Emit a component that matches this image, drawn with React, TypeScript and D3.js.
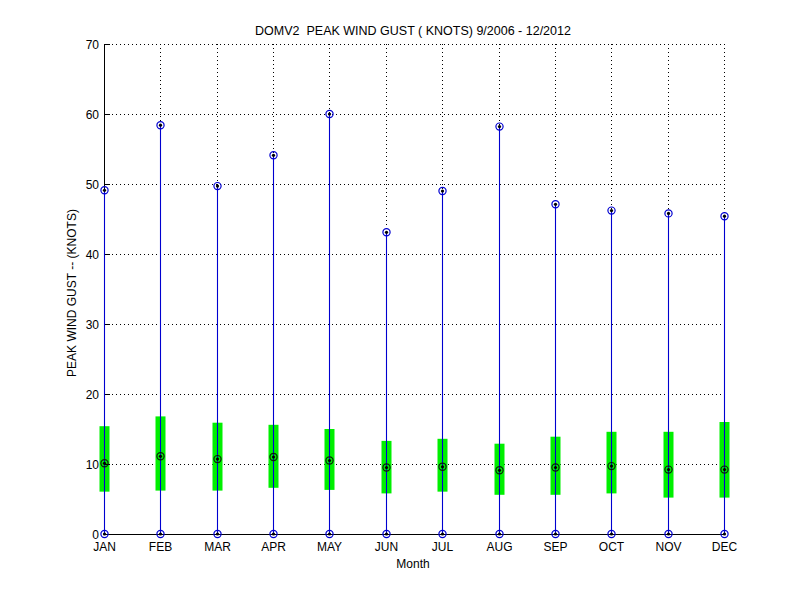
import React from 'react';
import * as d3 from 'd3';

const months = ['JAN', 'FEB', 'MAR', 'APR', 'MAY', 'JUN', 'JUL', 'AUG', 'SEP', 'OCT', 'NOV', 'DEC'];
const maxGust = [49.1, 58.4, 49.7, 54.1, 60.0, 43.1, 49.0, 58.2, 47.1, 46.2, 45.8, 45.4];
const minGust = [0, 0, 0, 0, 0, 0, 0, 0, 0, 0, 0, 0];
const upperBox = [15.4, 16.8, 15.9, 15.6, 15.0, 13.3, 13.6, 12.9, 13.9, 14.6, 14.6, 16.0];
const lowerBox = [6.05, 6.2, 6.2, 6.6, 6.3, 5.8, 6.05, 5.6, 5.6, 5.8, 5.2, 5.2];
const medianGust = [10.1, 11.1, 10.7, 11.0, 10.5, 9.5, 9.6, 9.1, 9.5, 9.7, 9.2, 9.2];
const yTicks = [0, 10, 20, 30, 40, 50, 60, 70];

const W = 800;
const H = 600;
const left = 104;
const right = 724;
const top = 44;
const bottom = 534;
const font = '"Liberation Sans", Arial, Helvetica, sans-serif';
const blue = '#0000d0';

const App: React.FC = () => {
  const xs = d3.scalePoint<string>().domain(months).range([left, right]);
  const y = d3.scaleLinear().domain([0, 70]).range([bottom, top]);
  // snap to pixel centres so 1px lines stay sharp
  const x = (m: string) => Math.round(xs(m) as number) + 0.5;
  const yp = (v: number) => Math.round(y(v)) + 0.5;

  const marker = (cx: number, cy: number, stroke: string, key: string) => (
    <g key={key}>
      <circle cx={cx} cy={cy} r={3.6} fill="none" stroke={stroke} strokeWidth={1.2} />
      <circle cx={cx} cy={cy} r={1.6} fill="#000" />
    </g>
  );

  return (
    <svg width={W} height={H} style={{ position: 'absolute', left: 0, top: 0, background: '#fff' }}>
      <rect width={W} height={H} fill="#fff" />
      {/* grid (vertical grid only visible above each whisker) */}
      {yTicks.slice(1).map(t => (
        <line key={'gy' + t} x1={left} x2={right} y1={yp(t)} y2={yp(t)}
          stroke="#000" strokeWidth={1} strokeDasharray="1 3" />
      ))}
      {months.slice(1).map((m, j) => (
        <line key={'gx' + m} x1={x(m)} x2={x(m)} y1={top} y2={y(maxGust[j + 1])}
          stroke="#000" strokeWidth={1} strokeDasharray="1 3" />
      ))}
      {/* boxes */}
      {months.map((m, i) => (
        <rect key={'b' + m} x={x(m) - 5} width={10}
          y={y(upperBox[i])} height={y(lowerBox[i]) - y(upperBox[i])} fill="#00f000" />
      ))}
      {/* axes */}
      <line x1={left + 0.5} x2={left + 0.5} y1={top} y2={bottom} stroke="#000" />
      <line x1={left} x2={right + 1} y1={bottom + 0.5} y2={bottom + 0.5} stroke="#000" />
      {yTicks.map(t => (
        <line key={'ty' + t} x1={left} x2={left + 6} y1={yp(t)} y2={yp(t)} stroke="#000" />
      ))}
      {yTicks.map(t => (
        <text key={'ly' + t} x={left - 5} y={y(t) + 4.5} textAnchor="end" fontFamily={font} fontSize={12}>{t}</text>
      ))}
      {months.map(m => (
        <text key={'lx' + m} x={x(m)} y={bottom + 17} textAnchor="middle" fontFamily={font} fontSize={12}>{m}</text>
      ))}
      {/* whiskers */}
      {months.map((m, i) => (
        <line key={'w' + m} x1={x(m)} x2={x(m)} y1={y(maxGust[i])} y2={y(minGust[i])}
          stroke={blue} strokeWidth={1.1} />
      ))}
      {/* markers */}
      {months.map((m, i) => marker(x(m), y(maxGust[i]), blue, 'mx' + m))}
      {months.map((m, i) => marker(x(m), y(minGust[i]), blue, 'mn' + m))}
      {months.map((m, i) => marker(x(m), y(medianGust[i]), '#0a200a', 'md' + m))}
      {/* labels */}
      <text x={413} y={35} textAnchor="middle" fontFamily={font} fontSize={12.5}>
        {'DOMV2\u00a0\u00a0PEAK WIND GUST ( KNOTS) 9/2006 - 12/2012'}
      </text>
      <text x={413} y={568} textAnchor="middle" fontFamily={font} fontSize={12}>Month</text>
      <text transform="translate(76,293) rotate(-90)" textAnchor="middle"
        fontFamily={font} fontSize={12}>PEAK WIND GUST -- (KNOTS)</text>
    </svg>
  );
};

export default App;
